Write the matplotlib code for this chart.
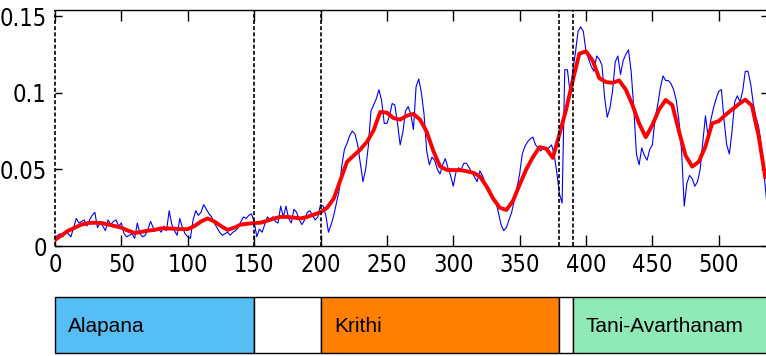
import numpy as np
import matplotlib
matplotlib.use('Agg')
import matplotlib.pyplot as plt
from matplotlib.patches import Rectangle
from matplotlib import font_manager

# ---- data ----
blue_x = np.arange(0, 537, 2)
blue_y = [
    0.005, 0.007, 0.008, 0.006, 0.010, 0.008, 0.006, 0.012, 0.018, 0.015,
    0.016, 0.017, 0.013, 0.017, 0.020, 0.022, 0.012, 0.015, 0.013, 0.010,
    0.017, 0.014, 0.016, 0.017, 0.013, 0.015, 0.008, 0.006, 0.007, 0.008,
    0.005, 0.015, 0.008, 0.006, 0.007, 0.011, 0.016, 0.012, 0.010, 0.011,
    0.009, 0.013, 0.010, 0.023, 0.014, 0.010, 0.007, 0.018, 0.012, 0.008,
    0.006, 0.005, 0.017, 0.023, 0.020, 0.022, 0.027, 0.024, 0.021, 0.019,
    0.015, 0.012, 0.009, 0.007, 0.008, 0.009, 0.007, 0.009, 0.010, 0.012,
    0.016, 0.019, 0.018, 0.020, 0.021, 0.016, 0.006, 0.011, 0.009, 0.014,
    0.019, 0.017, 0.019, 0.016, 0.015, 0.026, 0.019, 0.026, 0.018, 0.015,
    0.024, 0.022, 0.017, 0.014, 0.017, 0.022, 0.023, 0.020, 0.017, 0.019,
    0.027, 0.026, 0.020, 0.009, 0.014, 0.020, 0.028, 0.036, 0.052, 0.063,
    0.067, 0.072, 0.075, 0.073, 0.066, 0.054, 0.042, 0.050, 0.065, 0.088,
    0.092, 0.096, 0.102, 0.095, 0.080, 0.080, 0.085, 0.093, 0.092, 0.080,
    0.066, 0.074, 0.088, 0.091, 0.086, 0.076, 0.104, 0.109, 0.100, 0.086,
    0.062, 0.053, 0.058, 0.056, 0.050, 0.047, 0.053, 0.057, 0.051, 0.046,
    0.039, 0.048, 0.051, 0.050, 0.054, 0.054, 0.051, 0.048, 0.045, 0.042,
    0.049, 0.046, 0.041, 0.039, 0.036, 0.032, 0.029, 0.022, 0.014, 0.010,
    0.012, 0.017, 0.022, 0.030, 0.038, 0.047, 0.060, 0.065, 0.068, 0.070,
    0.071, 0.066, 0.064, 0.062, 0.065, 0.063, 0.064, 0.066, 0.060, 0.048,
    0.034, 0.028, 0.115, 0.115, 0.100, 0.114, 0.126, 0.140, 0.143, 0.140,
    0.127, 0.122, 0.117, 0.114, 0.124, 0.122, 0.118, 0.097, 0.084, 0.090,
    0.101, 0.120, 0.124, 0.112, 0.121, 0.125, 0.128, 0.114, 0.090, 0.060,
    0.053, 0.064, 0.059, 0.056, 0.063, 0.066, 0.083, 0.092, 0.103, 0.111,
    0.108, 0.108, 0.106, 0.102, 0.095, 0.082, 0.062, 0.026, 0.041, 0.046,
    0.044, 0.039, 0.042, 0.050, 0.068, 0.085, 0.071, 0.082, 0.090, 0.096,
    0.101, 0.102, 0.082, 0.066, 0.060, 0.075, 0.094, 0.098, 0.094, 0.101,
    0.114, 0.114, 0.106, 0.093, 0.084, 0.078, 0.066, 0.048, 0.030,
]

red_x = np.arange(0, 536, 5)
red_y = [
    0.004, 0.007, 0.010, 0.012, 0.014, 0.015, 0.0152, 0.015, 0.014, 0.013,
    0.012, 0.010, 0.0085, 0.0092, 0.010, 0.0105, 0.0115, 0.0115, 0.0113, 0.011,
    0.011, 0.013, 0.016, 0.018, 0.016, 0.013, 0.0105, 0.012, 0.014, 0.0145,
    0.015, 0.0152, 0.0165, 0.018, 0.019, 0.019, 0.0185, 0.018, 0.019, 0.0205,
    0.022, 0.025, 0.031, 0.043, 0.055, 0.059, 0.063, 0.068, 0.0755, 0.0875,
    0.087, 0.0835, 0.0825, 0.085, 0.0862, 0.0825, 0.0745, 0.062, 0.052, 0.0497,
    0.0495, 0.0495, 0.0488, 0.0478, 0.0455, 0.039, 0.031, 0.025, 0.0235, 0.0295,
    0.040, 0.050, 0.058, 0.0645, 0.0635, 0.0575, 0.073, 0.089, 0.108, 0.1255,
    0.127, 0.121, 0.1095, 0.107, 0.1065, 0.108, 0.102, 0.092, 0.080, 0.071,
    0.079, 0.089, 0.0953, 0.092, 0.075, 0.059, 0.0518, 0.055, 0.065, 0.080,
    0.0815, 0.0855, 0.089, 0.0925, 0.0955, 0.0915, 0.072, 0.045,
]

boundaries = [0, 150, 200, 380, 390]
seg_starts = [0, 150, 200, 380, 390]
seg_ends = [150, 200, 380, 390, 545]
seg_labels = ['Alapana', '', 'Krithi', '', 'Tani-Avarthanam']
seg_colors = ['#55BEF5', '#FFFFFF', '#FF8000', '#FFFFFF', '#8FEAB7']

x_ticks = [0, 50, 100, 150, 200, 250, 300, 350, 400, 450, 500]
y_ticks = [0, 0.05, 0.1, 0.15]
y_tick_labels = ['0', '0.05', '0.1', '0.15']

# ---- pick a narrow font if one is installed ----
tick_font = None
tick_size = 16
for f in font_manager.fontManager.ttflist:
    nm = f.name
    if nm == 'Liberation Sans Narrow' and f.weight in (400, 'normal', 'regular') and f.style == 'normal':
        tick_font = font_manager.FontProperties(fname=f.fname)
        tick_size = 18
        break
if tick_font is None:
    for f in font_manager.fontManager.ttflist:
        if f.name.startswith('DejaVu Sans') and 'Condensed' in f.fname and 'Bold' not in f.fname \
                and 'Oblique' not in f.fname and 'Mono' not in f.fname:
            tick_font = font_manager.FontProperties(fname=f.fname)
            tick_size = 17
            break
if tick_font is None:
    tick_font = font_manager.FontProperties(family=['Liberation Sans', 'DejaVu Sans'])
    tick_size = 16
tick_font.set_size(tick_size)

# ---- figure ----
W, H = 766, 356
fig = plt.figure(figsize=(W / 100, H / 100), dpi=100)

left_px, right_px = 55, 768
xmax = (right_px - left_px) / 1.3275

ax = fig.add_axes([left_px / W, 1 - 246 / H, (right_px - left_px) / W, (246 - 10) / H])
ax.plot(blue_x, blue_y, color='#0000FF', lw=0.8, zorder=2)
ax.plot(red_x, red_y, color='#FF0000', lw=2.8, zorder=3, solid_joinstyle='round')
for b in boundaries:
    ax.axvline(b, color='black', lw=1.2, linestyle=(0, (2.4, 1.3)), zorder=4, clip_on=False)

ax.set_xlim(0, xmax)
ax.set_ylim(0, 0.154)
ax.set_xticks(x_ticks)
ax.set_xticklabels([str(t) for t in x_ticks], fontproperties=tick_font)
ax.set_yticks(y_ticks)
ax.set_yticklabels(y_tick_labels, fontproperties=tick_font)
ax.tick_params(axis='x', direction='in', length=8, width=1, top=True, bottom=True, pad=5)
ax.tick_params(axis='y', direction='in', length=5, width=1, left=True, right=True, pad=6)
ax.spines['left'].set_visible(False)
for s in ['top', 'bottom', 'right']:
    ax.spines[s].set_linewidth(1.0)

# ---- segment strip ----
bx = fig.add_axes([left_px / W, 1 - 353 / H, (right_px - left_px) / W, (353 - 297) / H])
bx.set_xlim(0, xmax)
bx.set_ylim(0, 1)
for s0, s1, lab, col in zip(seg_starts, seg_ends, seg_labels, seg_colors):
    bx.add_patch(Rectangle((s0, 0), s1 - s0, 1, facecolor=col, edgecolor='black',
                           lw=1.0, clip_on=False))
    if lab:
        bx.text(s0 + 10, 0.47, lab, ha='left', va='center', fontsize=15,
                family=['Liberation Sans', 'DejaVu Sans'])
bx.axis('off')

fig.savefig('out.png', dpi=100)
